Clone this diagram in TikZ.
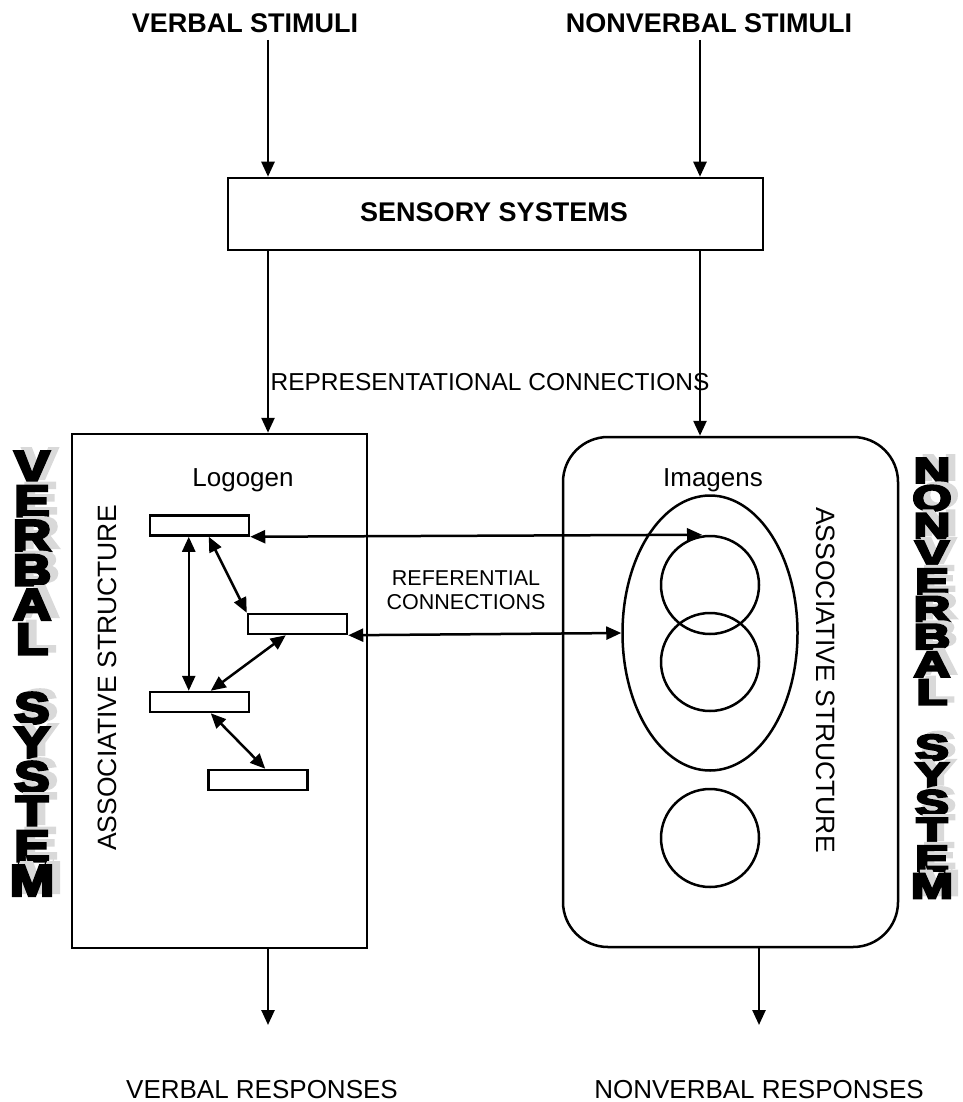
\documentclass[tikz,border=0pt]{standalone}
\usepackage{fontspec}
\setmainfont{Liberation Sans}
\newfontfamily\heavyfont{Liberation Sans}[UprightFont={* Bold},FakeBold=6]
\usetikzlibrary{arrows.meta,shapes.geometric,calc}
\begin{document}
\begin{tikzpicture}[x=1pt,y=-1pt,line width=2.5pt,
  tip/.tip={Triangle[length=15pt,width=13pt]},
  arr/.style={-tip},
  darr/.style={tip-tip},
  title/.style={font=\fontsize{27}{27}\selectfont\bfseries,inner sep=0pt},
  lab/.style={font=\fontsize{24.5}{24.5}\selectfont,inner sep=0pt},
  resp/.style={font=\fontsize{26}{26}\selectfont,inner sep=0pt,anchor=base,text depth=0pt},
  small/.style={font=\fontsize{21.5}{24}\selectfont,inner sep=0pt,align=center},
  head/.style={font=\fontsize{26}{26}\selectfont,inner sep=0pt},
  assoc/.style={font=\fontsize{26.5}{26.5}\selectfont,inner sep=0pt},
  wbox/.style={draw,fill=white,inner sep=0pt},
  lrect/.style={draw,inner sep=0pt,minimum width=99pt,minimum height=20pt},
  circ/.style={draw,circle,inner sep=0pt,minimum size=98pt},
  vletL/.style={font=\heavyfont\fontsize{44}{44}\selectfont,inner sep=0pt,text height=31.5pt,text depth=0pt},
  vletR/.style={font=\heavyfont\fontsize{36}{36}\selectfont,inner sep=0pt,text height=25.8pt,text depth=0pt},
  shadow/.style={text=gray!30}]
\useasboundingbox (0,0) rectangle (962,1102);

% titles
\node[title] (vs) at (245,23) {VERBAL STIMULI};
\node[title] (ns) at (709,23) {NONVERBAL STIMULI};
\coordinate (t1) at (268,40);
\coordinate (t2) at (700,40);

% sensory systems
\node[wbox,minimum width=535pt,minimum height=72pt] (sens) at (495.5,214) {};
\node[title] (senst) at (494,212) {SENSORY SYSTEMS};
\draw[arr] (t1) -- (t1 |- sens.north);
\draw[arr] (t2) -- (t2 |- sens.north);

% main boxes
\node[draw,inner sep=0pt,minimum width=295pt,minimum height=514pt] (lbox) at (219.5,691) {};
\node[draw,rounded corners=45pt,inner sep=0pt,minimum width=335pt,minimum height=510pt] (rbox) at (730.5,692) {};

\draw[arr] (sens.south -| t1) -- (lbox.north -| t1);
\draw[arr] (sens.south -| t2) -- (rbox.north -| t2);
\node[lab] (rep) at (490,382) {REPRESENTATIONAL CONNECTIONS};

% headings
\node[head] (logo) at (243,480) {Logogen};
\node[head] (imag) at (713,480) {Imagens};
\node[assoc,rotate=90] (as1) at (107,678) {ASSOCIATIVE STRUCTURE};
\node[assoc,rotate=-90] (as2) at (826,680) {ASSOCIATIVE STRUCTURE};

% logogens
\node[lrect] (r1) at (199.5,525.5) {};
\node[lrect] (r2) at (297.5,624) {};
\node[lrect] (r3) at (199.5,702) {};
\node[lrect] (r4) at (258,780) {};
\draw[darr] ($(r1.south west)+(40,0)$) -- ($(r3.north west)+(40,0)$);
\draw[darr] ($(r1.south west)+(60,0)$) -- (r2.north west);
\draw[darr] ($(r2.south west)+(39,0)$) -- ($(r3.north west)+(62,0)$);
\draw[darr] ($(r3.south west)+(62,0)$) -- ($(r4.north west)+(58,0)$);

% imagens
\node[draw,ellipse,inner sep=0pt,minimum width=175pt,minimum height=275pt] (ell) at (710,633) {};
\node[circ] (c1) at (710,585) {};
\node[circ] (c2) at (710,662) {};
\node[circ] (c3) at (710,838) {};

% referential connections
\draw[darr] (r1.south east) -- ([xshift=-8pt]c1.north);
\draw[darr] (r2.south east) -- (ell.west);
\node[small] (ref) at (466,590) {REFERENTIAL\\CONNECTIONS};

% responses
\coordinate (b1) at (268,1025);
\coordinate (b2) at (759,1025);
\draw[arr] (lbox.south -| b1) -- (b1);
\draw[arr] (rbox.south -| b2) -- (b2);
\node[resp] (vr) at (262,1098) {VERBAL RESPONSES};
\node[resp] (nr) at (759,1098) {NONVERBAL RESPONSES};

% vertical system names
\foreach \l [count=\i] in {V,E,R,B,A,L,{},S,Y,S,T,E,M} {
  \node[vletL,shadow] (vls\i) at ({40},{466+(\i-1)*34.5-3}) {\scalebox{1.2}[1]{\l}};
  \node[vletL] (vl\i) at (32,{466+(\i-1)*34.5}) {\scalebox{1.2}[1]{\l}};
}
\foreach \l [count=\i] in {N,O,N,V,E,R,B,A,L,{},S,Y,S,T,E,M} {
  \node[vletR,shadow] (vrs\i) at ({939},{470+(\i-1)*27.7-3}) {\scalebox{1.4}[1]{\l}};
  \node[vletR] (vr\i) at (932,{470+(\i-1)*27.7}) {\scalebox{1.4}[1]{\l}};
}
\end{tikzpicture}
\end{document}
